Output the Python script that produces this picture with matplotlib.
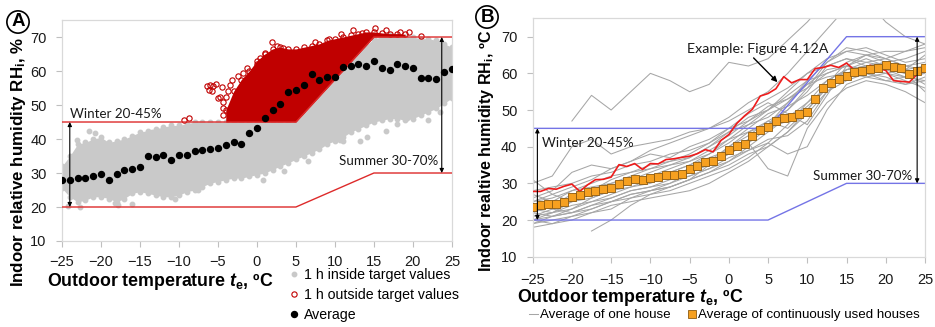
import numpy as np
import matplotlib.pyplot as plt

plt.rcParams['font.family'] = ['Liberation Sans', 'DejaVu Sans']
plt.rcParams['mathtext.fontset'] = 'custom'
plt.rcParams['mathtext.rm'] = 'Liberation Sans:bold'
plt.rcParams['mathtext.it'] = 'Liberation Sans:italic:bold'
plt.rcParams['mathtext.bf'] = 'Liberation Sans:bold'

# outdoor temperature, one step per degree
temp = np.arange(-25, 26)

# hourly averages of the example house (panel A black dots, panel B red line)
avg_house = [27.8, 27.8, 28.6, 28.4, 29.2, 29.8, 27.8, 29.6, 31.0, 31.1, 31.7,
             35.1, 34.6, 35.4, 33.8, 35.4, 35.3, 36.5, 36.7, 37.1, 37.4, 38.1,
             39.2, 38.6, 41.7, 43.3, 46.3, 48.4, 50.2, 53.8, 54.5, 55.8, 59.1,
             57.4, 58.3, 58.3, 61.3, 61.6, 62.2, 61.6, 62.8, 60.9, 60.4, 62.2,
             61.4, 60.8, 58.0, 57.8, 57.6, 59.7, 60.7]

# hourly values inside the target: lower / upper edge of the grey cloud
cloud_lo = [25.5, 23, 21.5, 22, 23, 23, 22.5, 21.5, 22.5, 24, 24.5, 24, 23.5,
            23, 23, 23.5, 24.5, 25, 26, 27, 27.5, 28, 28.5, 28.5, 29, 29.5, 30,
            31, 32, 33, 34, 35, 36, 37, 38.5, 39.5, 40.5, 42, 43, 44, 45, 45.5,
            46, 46, 45.5, 46, 47, 48, 49, 50.5, 52]
cloud_hi = [32, 35, 38.5, 39, 40, 40.5, 39, 39.5, 40, 41, 42, 42.5, 43, 43.5,
            44, 44, 44.5, 45, 45, 45, 45, 45, 45, 45, 45, 45, 45, 45, 45, 45,
            45, 47.5, 50, 52.5, 55, 57.5, 60, 62.5, 65, 67.5, 69.5, 70, 70.5,
            70, 70, 70, 69.5, 69.5, 69, 68, 67]
stray_in_t = [-23.1, -20.8, -13.5, -11.8, -22.7, -18.2, -17.8, -24.2, -16.0,
              0.8, 11.1, 13.2, 19.2, 8.9, 14.1, 10.6, 16.5, 22.0, -21.5,
              -19.5, -10.5, -7.5, 3.5, 6.5, 18.0, 23.5]
stray_in_rh = [39.7, 41.7, 42.1, 42.6, 20.1, 21.1, 20.5, 20.4, 20.8,
               27.9, 39.4, 39.4, 46.1, 44.1, 40.7, 39.7, 42.5, 45.5, 42.5,
               36.5, 22.5, 25.0, 30.5, 33.5, 44.5, 48.0]

# hourly values above the target (red cloud)
red_t = np.arange(-4, 20)
red_lo = [45, 45, 45, 45, 45, 45, 45, 45, 45, 45, 47.5, 50, 52.5, 55, 57.5,
          60, 62.5, 65, 67.5, 70, 70, 70, 70, 70]
red_hi = [48.5, 54, 57.5, 60, 63, 65, 66.5, 67, 66.5, 66.5, 67, 67.5, 68, 69,
          69.5, 70, 70.5, 71, 71.5, 71.5, 71.2, 71, 71, 70.8]
stray_out_t = [-8.7, -9.3, -6.4, -6.0, -5.6, -5.2, -4.8, -5.0, -4.5, -3.2,
               -1.3, 0.4, 1.0, 1.9, 2.6, 3.4, 12.3, 15.1, 16.5, 18.3, 19.5,
               21.1, 13.5, 10.8, -6.2, -5.8, -4.4, -4.3, -4.3, -4.0, -3.7,
               -3.5, -2.4, -1.8, 0.0, 7.5, 9.2]
stray_out_rh = [46.2, 45.6, 55.5, 55.9, 55.7, 56.3, 52.4, 52.0, 55.4, 57.5,
                60.8, 63.7, 65.4, 68.6, 67.3, 66.7, 72.0, 72.7, 72.0, 71.6,
                71.4, 70.4, 71.2, 70.8, 54.5, 54.0, 47, 49, 51, 52.5, 54.0,
                56.0, 58.5, 59.5, 62.0, 68.5, 69.5]

# target values: winter 20-45 %, summer 30-70 %
target_t = [-25, 5, 15, 25]
target_lo = [20, 20, 30, 30]
target_hi = [45, 45, 70, 70]

# panel B: averages of continuously used houses
avg_all = [23.6, 24.2, 24.4, 24.4, 25.0, 26.2, 26.9, 27.6, 28.0, 28.5, 28.8,
           29.7, 30.6, 31.1, 30.9, 31.5, 31.8, 32.4, 32.4, 32.6, 33.8, 34.6,
           35.7, 36.1, 37.4, 39.2, 40.3, 40.8, 42.9, 44.5, 45.5, 46.9, 47.8,
           48.0, 48.8, 49.5, 53.1, 55.9, 57.3, 58.5, 59.4, 60.3, 60.6, 61.3,
           61.5, 62.2, 61.8, 61.5, 59.9, 60.7, 61.4]

# panel B: averages of single houses, every 2.5 degrees
house_t = np.arange(-25, 25.1, 2.5)
nan = np.nan
houses = [
    [31, 27, 25, 27, 29, 31, 32, 33, 35, 38, 42, 46, 50, 55, 60, 64, 66, 65, 63, 61, 60],
    [24, 23, 22, 24, 26, 28, 29, 30, 33, 36, 40, 43, 47, 50, 55, 62, 64, 63, 62, 60, 62],
    [19, 20, 21, 23, 25, 27, 28, 29, 31, 33, 36, 40, 44, 48, 52, 56, 60, 61, 60, 59, 58],
    [22, 21, 23, 26, 28, 29, 31, 33, 35, 37, 39, 42, 46, 52, 58, 63, 66, 67, 65, 63, 64],
    [26, 28, 33, 35, 34, 36, 38, 37, 40, 42, 45, 47, 50, 54, 58, 60, 62, 61, 60, 58, 56],
    [20, 19, 20, 22, 24, 25, 26, 27, 28, 30, 33, 36, 40, 44, 49, 55, 58, 60, 59, 57, 59],
    [30, 32, 40, 42, 38, 40, 41, 42, 44, 45, 47, 50, 53, 56, 60, 62, 64, 62, 61, 60, 61],
    [21, 22, 24, 25, 27, 29, 30, 32, 33, 35, 38, 41, 34, 32, 45, 52, 56, 58, 57, 55, 52],
    [18, 19, 21, 22, 23, 26, 28, 30, 32, 34, 37, 39, 42, 43, 47, 55, 60, 62, 63, 64, 66],
    [nan, nan, nan, 17, 20, 24, 27, 29, 31, 35, 40, 44, 47, 45, 50, 57, 63, 65, 66, 66, 67],
    [nan, nan, 47, 54, 50, 55, 60, 58, 55, 57, 63, 62, 64, 69, 74, 80, nan, nan, nan, nan, nan],
    [25, 27, 29, 31, 34, 36, 39, 41, 43, 45, 48, 52, 55, 60, 66, 72, 78, 80, 74, 70, 68],
    [23, 24, 26, 28, 31, 33, 35, 36, 38, 41, 45, 49, 52, 49, 46, 54, 62, 65, 64, 62, 63],
    [28, 29, 30, 32, 33, 35, 36, 38, 39, 41, 44, 46, 48, 52, 57, 61, 62, 60, 58, 57, 58],
    [20, 22, 23, 25, 26, 28, 29, 31, 32, 34, 36, 39, 41, 38, 40, 50, 57, 59, 60, 61, 62],
    [22, 24, 27, 28, 30, 31, 33, 35, 36, 38, 41, 45, 49, 51, 54, 58, 61, 62, 63, 60, 55],
    [27, 25, 28, 30, 32, 33, 34, 36, 37, 40, 43, 47, 51, 53, 56, 60, 62, 64, 62, 61, 65],
    [19, 21, 22, 24, 25, 26, 27, 28, 30, 32, 34, 37, 41, 46, 52, 58, 61, 62, 61, 59, 60],
    [23, 22, 25, 27, 29, 30, 32, 34, 36, 39, 42, 44, 46, 50, 56, 63, 67, 66, 64, 66, 68],
    [21, 23, 25, 26, 28, 30, 31, 32, 34, 36, 38, 41, 45, 47, 51, 56, 59, 61, 62, 60, 57],
    [25, 26, 28, 29, 30, 32, 34, 35, 37, 40, 44, 48, 50, 53, 57, 59, 60, 59, 58, 59, 60],
    [20, 21, 22, 23, 25, 27, 28, 29, 31, 33, 35, 38, 40, 44, 50, 56, 61, 63, 64, 62, 61],
]

GREY = '#c9c9c9'
DARKRED = '#c00000'
LINERED = '#dd2a2a'
BLUE = '#7474e6'
ORANGE = '#f6a020'

fig = plt.figure(figsize=(9.35, 3.27), dpi=100)
axA = fig.add_axes([0.0663, 0.263, 0.417, 0.6758])
axB = fig.add_axes([0.5697, 0.215, 0.4196, 0.7289])


def style_axes(ax, xpad):
    ax.set_xlim(-25, 25)
    ax.set_ylim(10, 75)
    ax.set_xticks(range(-25, 26, 5))
    ax.set_yticks(range(10, 71, 10))
    for s in ax.spines.values():
        s.set_color('#d9d9d9')
        s.set_linewidth(0.9)
    ax.tick_params(axis='both', colors='#bfbfbf', labelcolor='#1a1a1a',
                   labelsize=10.5, length=4, width=0.8)
    ax.tick_params(axis='y', pad=7)
    ax.tick_params(axis='x', pad=xpad)


# ---- panel A ----
axA.fill_between(temp, cloud_lo, cloud_hi, color=GREY, lw=0, zorder=1)
axA.plot(temp, cloud_lo, 'o', color=GREY, ms=3.2, zorder=1)
axA.plot(temp, cloud_hi, 'o', color=GREY, ms=3.2, zorder=1)
axA.plot(stray_in_t, stray_in_rh, 'o', color=GREY, ms=3.2, zorder=1,
         label='1 h inside target values')

axA.fill_between(red_t, red_lo, red_hi, color=DARKRED, lw=0, zorder=2)
axA.plot(red_t, red_hi, 'o', mfc='none', mec=DARKRED, ms=3.8, mew=0.8, zorder=2)
axA.plot(stray_out_t, stray_out_rh, 'o', mfc='none', mec=DARKRED, ms=3.8,
         mew=0.8, zorder=2, label='1 h outside target values')

axA.plot(target_t, target_lo, color=LINERED, lw=1.0, zorder=3)
axA.plot(target_t, target_hi, color=LINERED, lw=1.0, zorder=3)
axA.plot(temp, avg_house, 'o', color='black', ms=4.3, zorder=4, label='Average')

arrow = dict(arrowstyle='<|-|>', lw=0.8, color='black', mutation_scale=6,
             shrinkA=0, shrinkB=0)
axA.annotate('', xy=(-24, 20), xytext=(-24, 45), arrowprops=arrow, zorder=5)
axA.annotate('', xy=(23.7, 30), xytext=(23.7, 70), arrowprops=arrow, zorder=5)
axA.text(-24, 45.6, 'Winter 20-45%', family='Lato', fontsize=9.6,
         ha='left', va='bottom', color='#1a1a1a')
axA.text(23.3, 33.5, 'Summer 30-70%', family='Lato', fontsize=9.6,
         ha='right', va='center', color='#1a1a1a')
style_axes(axA, 6)

legA = axA.legend(loc='upper left', bbox_to_anchor=(290 / 935, 1 - 268 / 327),
                  bbox_transform=fig.transFigure, frameon=False, fontsize=10.2,
                  handlelength=0.6, handletextpad=0.4, labelspacing=0.42,
                  borderpad=0, borderaxespad=0)

# ---- panel B ----
for i, h in enumerate(houses):
    axB.plot(house_t, h, color='#a6a6a6', lw=0.75, zorder=1,
             label='Average of one house' if i == 0 else None)
axB.plot(target_t, target_lo, color=BLUE, lw=1.0, zorder=2)
axB.plot(target_t, target_hi, color=BLUE, lw=1.0, zorder=2)
axB.plot(temp, avg_house, color='#ee1c1c', lw=1.2, zorder=3)
axB.plot(temp, avg_all, 's', ms=5.2, mfc=ORANGE, mec='#8c5a10', mew=0.6,
         zorder=4, label='Average of continuously used houses')

axB.annotate('', xy=(-24.4, 20), xytext=(-24.4, 45), arrowprops=arrow, zorder=5)
axB.annotate('', xy=(24, 30), xytext=(24, 70), arrowprops=arrow, zorder=5)
axB.text(-23.8, 41.1, 'Winter 20-45%', family='Lato', fontsize=9.6,
         ha='left', va='center', color='#1a1a1a')
axB.text(23.4, 32.0, 'Summer 30-70%', family='Lato', fontsize=9.6,
         ha='right', va='center', color='#1a1a1a')
axB.annotate('Example: Figure 4.12A', xy=(6.2, 57.6), xytext=(-5.3, 66.6),
             family='Lato', fontsize=10.3, ha='left', va='center', color='#1a1a1a',
             arrowprops=dict(arrowstyle='-|>', lw=1.0, color='black',
                             mutation_scale=8, shrinkA=0, shrinkB=0,
                             relpos=(0.45, 0.0)))
style_axes(axB, 8)

legB = axB.legend(loc='upper left', bbox_to_anchor=(529 / 935, 1 - 309 / 327),
                  bbox_transform=fig.transFigure, frameon=False, fontsize=9.6,
                  ncol=2, handlelength=0.7, handletextpad=0.15, columnspacing=1.2,
                  borderpad=0, borderaxespad=0)

# ---- axis titles and panel letters ----
xlab = r'Outdoor temperature $t_{\mathrm{e}}$, ºC'
fig.text(160 / 935, 1 - 282 / 327, xlab, fontsize=12.8, fontweight='bold',
         ha='center', va='center')
fig.text(630 / 935, 1 - 298 / 327, xlab, fontsize=12.8, fontweight='bold',
         ha='center', va='center')
fig.text(19 / 935, 1 - 162 / 327, r'Indoor relative humidity RH$_{\mathrm{i}}$, %',
         fontsize=12.2, fontweight='bold', rotation=90, ha='center', va='center')
fig.text(487 / 935, 1 - 151 / 327, r'Indoor realtive humidity RH$_{\mathrm{i}}$, ºC',
         fontsize=11.6, fontweight='bold', rotation=90, ha='center', va='center')

circle = dict(boxstyle='circle,pad=0.14', fc='white', ec='black', lw=1.2)
fig.text(18 / 935, 1 - 22 / 327, 'A', fontsize=13.5, fontweight='bold',
         ha='center', va='center', bbox=circle)
fig.text(487 / 935, 1 - 17 / 327, 'B', fontsize=13.5, fontweight='bold',
         ha='center', va='center', bbox=circle)

fig.savefig('out.png', dpi=100)
